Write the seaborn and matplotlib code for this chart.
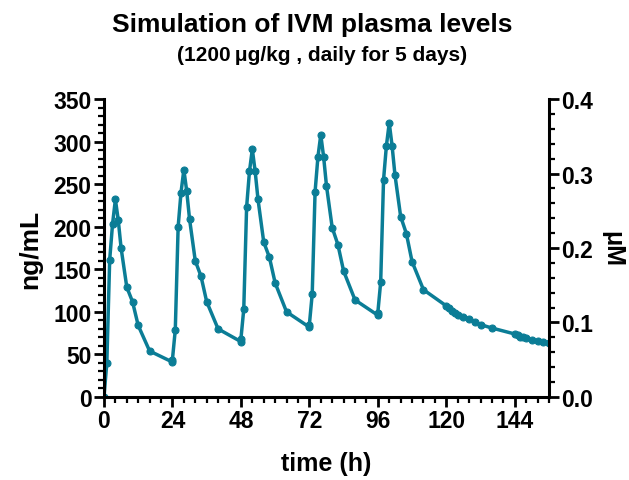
"""
Simulation des niveaux plasmatiques d'IVM (1200 ug/kg, 5 jours)
Courbe unique avec axe secondaire en uM.
"""
import matplotlib
matplotlib.use("Agg")
import matplotlib.pyplot as plt
from matplotlib.ticker import MultipleLocator, FormatStrFormatter
import seaborn as sns

# --- donnees ---
time_h = [0, 1, 2, 3, 4, 5, 6, 8, 10, 12, 16, 24,
          24, 25, 26, 27, 28, 29, 30, 32, 34, 36, 40, 48,
          48, 49, 50, 51, 52, 53, 54, 56, 58, 60, 64, 72,
          72, 73, 74, 75, 76, 77, 78, 80, 82, 84, 88, 96,
          96, 97, 98, 99, 100, 101, 102, 104, 106, 108, 112,
          120, 121, 122, 123, 124, 126, 128, 130, 132, 136,
          144, 145, 146, 147, 148, 150, 152, 154, 156]
conc_ngml = [0, 40, 161, 203, 232, 208, 175, 129, 112, 84, 54, 41,
             44, 79, 200, 240, 267, 242, 209, 160, 142, 112, 80, 65,
             68, 103, 223, 265, 291, 265, 232, 182, 164, 134, 100, 82,
             85, 121, 241, 282, 308, 282, 248, 199, 179, 148, 114, 96,
             99, 135, 255, 295, 322, 295, 261, 212, 192, 159, 126,
             107, 104, 101, 99, 96, 94, 92, 88, 85, 81,
             74, 73, 71, 70, 69, 67, 66, 65, 64]

ligne = "#0b7d96"

sns.set_style("ticks")
plt.rcParams["font.family"] = ["Liberation Sans", "DejaVu Sans"]
plt.rcParams["font.weight"] = "bold"
plt.rcParams["text.color"] = "black"
plt.rcParams["axes.labelcolor"] = "black"
plt.rcParams["xtick.color"] = "black"
plt.rcParams["ytick.color"] = "black"
plt.rcParams["axes.edgecolor"] = "black"

fig = plt.figure(figsize=(6.29, 4.81), dpi=100)
ax = fig.add_axes([0.1653, 0.1726, 0.7075, 0.6194])

sns.lineplot(x=time_h, y=conc_ngml, estimator=None, sort=False, ax=ax,
             color=ligne, linewidth=2.5, marker="o", markersize=5,
             markeredgecolor=ligne, markeredgewidth=0.8)

ax.set_xlim(0, 156)
ax.set_ylim(0, 350)
ax.xaxis.set_major_locator(MultipleLocator(24))
ax.xaxis.set_minor_locator(MultipleLocator(4))
ax.yaxis.set_major_locator(MultipleLocator(50))
ax.yaxis.set_minor_locator(MultipleLocator(10))
ax.set_xlabel("time (h)", fontsize=18, fontweight="bold", labelpad=13)
ax.set_ylabel("ng/mL", fontsize=19, fontweight="bold", labelpad=8)

# axe secondaire en uM (0 - 0.4)
ax2 = ax.twinx()
ax2.set_ylim(0, 0.4)
ax2.yaxis.set_major_locator(MultipleLocator(0.1))
ax2.yaxis.set_minor_locator(MultipleLocator(0.02))
ax2.yaxis.set_major_formatter(FormatStrFormatter("%.1f"))
ax2.set_ylabel("μM", fontsize=18, fontweight="bold", rotation=270, labelpad=22)

for a in (ax, ax2):
    for s in a.spines.values():
        s.set_linewidth(2.2)
    a.spines["top"].set_visible(False)
    a.tick_params(which="major", length=7, width=2, labelsize=16.5, pad=2)
    a.tick_params(which="minor", length=4, width=1.6)
    for lab in a.get_xticklabels() + a.get_yticklabels():
        lab.set_fontweight("bold")
ax.spines["right"].set_visible(False)
ax2.spines["left"].set_visible(False)
ax2.spines["bottom"].set_visible(False)

fig.text(0.497, 0.947, "Simulation of IVM plasma levels", ha="center", va="center",
         fontsize=19, fontweight="bold")
fig.text(0.512, 0.884, "(1200\u2009μg/kg , daily for 5 days)", ha="center", va="center",
         fontsize=15, fontweight="bold")

plt.savefig("out.png", dpi=100)
plt.close()
